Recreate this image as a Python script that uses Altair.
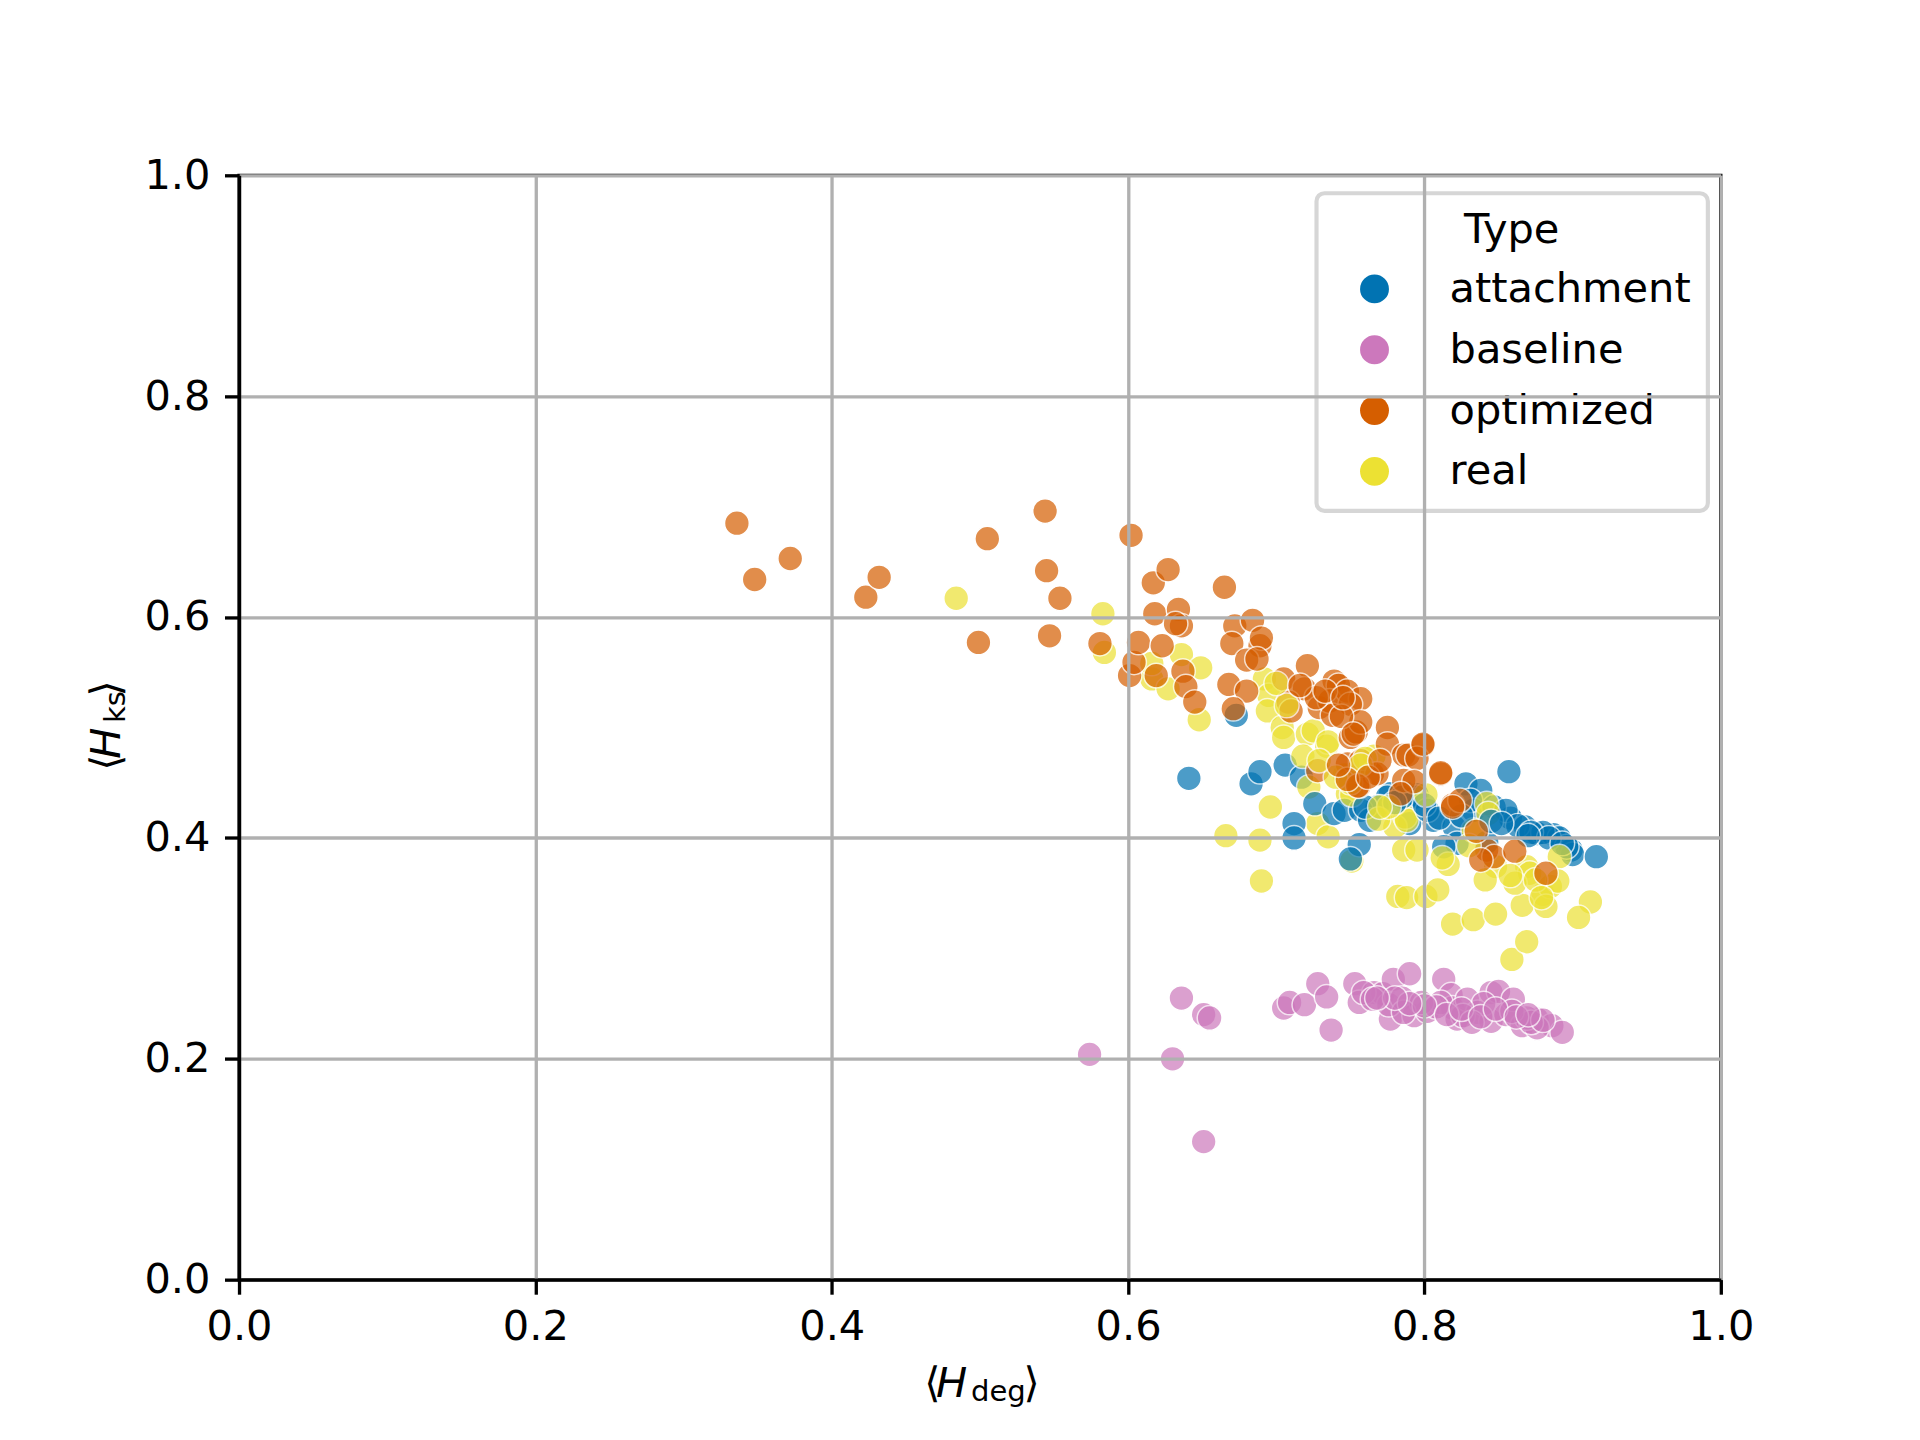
import altair as alt
import pandas as pd

# ---------------- data ----------------
optimized_x = [0.336, 0.348, 0.372, 0.423, 0.432, 0.499, 0.505, 0.544, 0.545, 0.547,
               0.554, 0.581, 0.602, 0.601, 0.604, 0.607, 0.617, 0.618, 0.623, 0.627,
               0.634, 0.636, 0.632, 0.619, 0.637, 0.639, 0.645, 0.665, 0.672, 0.684,
               0.670, 0.689, 0.690, 0.680, 0.687, 0.668, 0.680, 0.671, 0.705, 0.721,
               0.719, 0.708, 0.710, 0.729, 0.739, 0.742, 0.736, 0.748, 0.757, 0.750,
               0.738, 0.750, 0.754, 0.775, 0.775, 0.786, 0.728, 0.748, 0.757, 0.765,
               0.756, 0.786, 0.789, 0.799, 0.795, 0.811, 0.768, 0.793, 0.819, 0.824,
               0.842, 0.847, 0.861, 0.882, 0.838, 0.819, 0.755, 0.784, 0.757, 0.748,
               0.835, 0.727, 0.716, 0.744, 0.752, 0.799, 0.811, 0.742, 0.733, 0.745,
               0.762, 0.770]
optimized_y = [0.685, 0.634, 0.653, 0.618, 0.636, 0.577, 0.671, 0.696, 0.642, 0.583,
               0.617, 0.576, 0.674, 0.547, 0.559, 0.577, 0.631, 0.603, 0.574, 0.643,
               0.607, 0.592, 0.594, 0.547, 0.551, 0.537, 0.523, 0.627, 0.592, 0.597,
               0.576, 0.574, 0.581, 0.561, 0.562, 0.539, 0.533, 0.517, 0.544, 0.556,
               0.535, 0.523, 0.515, 0.518, 0.542, 0.538, 0.524, 0.533, 0.526, 0.521,
               0.511, 0.491, 0.496, 0.500, 0.485, 0.475, 0.461, 0.467, 0.470, 0.458,
               0.447, 0.452, 0.475, 0.484, 0.472, 0.458, 0.458, 0.451, 0.430, 0.434,
               0.389, 0.383, 0.388, 0.368, 0.380, 0.428, 0.447, 0.440, 0.505, 0.453,
               0.406, 0.527, 0.538, 0.510, 0.494, 0.485, 0.459, 0.466, 0.533, 0.527,
               0.455, 0.470]

real_x = [0.484, 0.583, 0.584, 0.616, 0.616, 0.627, 0.636, 0.649, 0.648, 0.666,
          0.689, 0.690, 0.696, 0.692, 0.695, 0.694, 0.704, 0.705, 0.721, 0.725,
          0.718, 0.734, 0.735, 0.722, 0.748, 0.766, 0.746, 0.728, 0.735, 0.751,
          0.786, 0.795, 0.782, 0.788, 0.801, 0.809, 0.816, 0.819, 0.833, 0.780,
          0.787, 0.751, 0.788, 0.842, 0.843, 0.833, 0.869, 0.871, 0.848, 0.841,
          0.880, 0.885, 0.866, 0.882, 0.912, 0.861, 0.891, 0.848, 0.859, 0.869,
          0.904, 0.890, 0.750, 0.760, 0.769, 0.776, 0.801, 0.858, 0.875, 0.879,
          0.830, 0.812, 0.757, 0.740, 0.729, 0.770, 0.707, 0.700]
real_y = [0.617, 0.603, 0.568, 0.544, 0.558, 0.535, 0.566, 0.554, 0.507, 0.402,
          0.398, 0.361, 0.428, 0.544, 0.529, 0.515, 0.500, 0.491, 0.494, 0.497,
          0.474, 0.483, 0.487, 0.446, 0.440, 0.474, 0.457, 0.413, 0.401, 0.379,
          0.389, 0.389, 0.347, 0.346, 0.347, 0.353, 0.376, 0.322, 0.326, 0.410,
          0.419, 0.439, 0.416, 0.431, 0.422, 0.407, 0.374, 0.368, 0.374, 0.362,
          0.349, 0.356, 0.339, 0.338, 0.342, 0.359, 0.383, 0.331, 0.290, 0.306,
          0.328, 0.361, 0.450, 0.472, 0.417, 0.428, 0.439, 0.366, 0.362, 0.346,
          0.393, 0.382, 0.466, 0.455, 0.470, 0.428, 0.520, 0.540]

attachment_x = [0.641, 0.673, 0.683, 0.689, 0.706, 0.717, 0.777, 0.788, 0.857, 0.828,
                0.838, 0.775, 0.795, 0.806, 0.820, 0.858, 0.868, 0.876, 0.887, 0.891,
                0.899, 0.900, 0.916, 0.822, 0.813, 0.833, 0.847, 0.855, 0.768, 0.712,
                0.712, 0.726, 0.739, 0.746, 0.756, 0.757, 0.763, 0.790, 0.794, 0.831,
                0.750, 0.880, 0.896, 0.863, 0.842, 0.802, 0.785, 0.800, 0.810, 0.845,
                0.852, 0.872, 0.884, 0.893, 0.870, 0.825, 0.760, 0.780]
attachment_y = [0.454, 0.511, 0.449, 0.460, 0.466, 0.455, 0.440, 0.440, 0.460, 0.449,
                0.443, 0.437, 0.439, 0.416, 0.410, 0.418, 0.410, 0.404, 0.403, 0.400,
                0.389, 0.385, 0.383, 0.395, 0.392, 0.425, 0.428, 0.425, 0.428, 0.413,
                0.400, 0.431, 0.422, 0.425, 0.394, 0.425, 0.416, 0.413, 0.437, 0.434,
                0.381, 0.405, 0.392, 0.411, 0.396, 0.425, 0.437, 0.430, 0.418, 0.415,
                0.413, 0.405, 0.400, 0.395, 0.402, 0.420, 0.428, 0.432]

baseline_x = [0.574, 0.636, 0.651, 0.655, 0.630, 0.651, 0.705, 0.709, 0.719, 0.728,
              0.734, 0.737, 0.753, 0.756, 0.766, 0.772, 0.777, 0.779, 0.776, 0.785,
              0.790, 0.793, 0.802, 0.813, 0.818, 0.819, 0.822, 0.829, 0.836, 0.845,
              0.845, 0.850, 0.855, 0.860, 0.866, 0.876, 0.886, 0.893, 0.876, 0.869,
              0.826, 0.811, 0.798, 0.786, 0.759, 0.765, 0.840, 0.872, 0.880, 0.808,
              0.832, 0.859, 0.800, 0.815, 0.825, 0.838, 0.848, 0.862, 0.870, 0.790,
              0.780, 0.768]
baseline_y = [0.204, 0.255, 0.240, 0.237, 0.200, 0.125, 0.246, 0.251, 0.249, 0.268,
              0.256, 0.226, 0.268, 0.251, 0.260, 0.259, 0.236, 0.272, 0.249, 0.255,
              0.277, 0.239, 0.243, 0.272, 0.258, 0.246, 0.236, 0.254, 0.242, 0.260,
              0.234, 0.261, 0.240, 0.254, 0.230, 0.236, 0.230, 0.224, 0.228, 0.237,
              0.239, 0.251, 0.251, 0.242, 0.260, 0.254, 0.250, 0.233, 0.235, 0.247,
              0.233, 0.243, 0.248, 0.240, 0.245, 0.238, 0.245, 0.238, 0.240, 0.250,
              0.255, 0.255]

type_names = ["attachment", "baseline", "optimized", "real"]
type_colors = ["#0173b2", "#cc78bc", "#d55e00", "#ece133"]
tick_values = [0.0, 0.2, 0.4, 0.6, 0.8, 1.0]

series = {
    "attachment": (attachment_x, attachment_y),
    "baseline": (baseline_x, baseline_y),
    "optimized": (optimized_x, optimized_y),
    "real": (real_x, real_y),
}

# interleave the groups so drawing order is mixed, as in the reference
draw_order = ["optimized", "real", "attachment", "baseline"]
rows = []
longest = max(len(v[0]) for v in series.values())
for i in range(longest):
    for t in draw_order:
        xs, ys = series[t]
        if i < len(xs):
            rows.append({"Hdeg": xs[i], "Hks": ys[i], "Type": t})
df = pd.DataFrame(rows)

FS = 41.7
LW = 3.33
FONT = "DejaVu Sans"


def axis(orient):
    return alt.Axis(
        values=tick_values, format=".1f", title=None, grid=True,
        gridColor="#b0b0b0", gridWidth=LW, domainColor="black", domainWidth=LW,
        tickColor="black", tickWidth=LW, tickSize=14.6,
        labelPadding=12.6 if orient == "x" else 14.6,
        labelFontSize=FS, labelFont=FONT, labelColor="black", labelFlush=False,
        zindex=1,
    )


points = alt.Chart(df).mark_circle(
    size=620, opacity=0.7, stroke="white", strokeWidth=1.5
).encode(
    x=alt.X("Hdeg:Q", scale=alt.Scale(domain=[0, 1], nice=False, zero=False), axis=axis("x")),
    y=alt.Y("Hks:Q", scale=alt.Scale(domain=[0, 1], nice=False, zero=False), axis=axis("y")),
    color=alt.Color(
        "Type:N",
        scale=alt.Scale(domain=type_names, range=type_colors),
        legend=alt.Legend(
            title="Type", orient="none", legendX=1082, legendY=18,
            titleAnchor="middle", titleFontSize=FS, titleFont=FONT,
            titleFontWeight="normal", titleColor="black", titlePadding=16.5,
            labelFontSize=FS, labelFont=FONT, labelColor="black", labelLimit=500,
            symbolType="circle", symbolSize=841, symbolOpacity=1,
            symbolStrokeWidth=0, symbolOffset=20.4, labelOffset=54.5,
            rowPadding=18.1, padding=17,
            fillColor="rgba(255,255,255,0.8)", strokeColor="rgba(204,204,204,0.8)",
            cornerRadius=8,
        ),
    ),
)


def label(txt, x, y, size=FS, italic=False, align="left", angle=0):
    kw = dict(font=FONT, fontSize=size, color="black", align=align,
              baseline="alphabetic", fontStyle="italic" if italic else "normal")
    if angle:
        kw["angle"] = angle
    return alt.Chart(pd.DataFrame({"t": [txt]})).mark_text(**kw).encode(
        text="t:N", x=alt.value(x), y=alt.value(y)
    )


# x-axis title  <H_deg>
xt = [
    label("⟨", 688, 1227),
    label("H", 700, 1227, italic=True),
    label("deg", 735, 1231, size=29.2),
    label("⟩", 804, 1227, align="right"),
]
# y-axis title  <H_ks>  (rotated, reading upwards)
yt = [
    label("⟨", -120, 598, angle=270),
    label("H", -120, 586, italic=True, angle=270),
    label("ks", -115, 550, size=29.2, angle=270),
    label("⟩", -120, 507, align="right", angle=270),
]

chart = alt.layer(points, *xt, *yt).properties(
    width=1488, height=1109,
    padding={"left": 232, "top": 165, "right": 192, "bottom": 158},
    autosize=alt.AutoSizeParams(type="none"),
).configure(font=FONT).configure_view(
    stroke="black", strokeWidth=LW
).configure_legend(strokeWidth=4.17)

chart.save("out.html", embed_options={"renderer": "svg", "actions": False})
